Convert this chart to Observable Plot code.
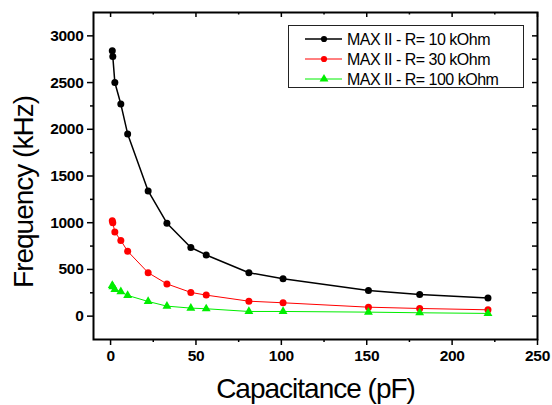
<!DOCTYPE html>
<html><head><meta charset="utf-8">
<script src="https://cdn.jsdelivr.net/npm/d3@7"></script>
<script src="https://cdn.jsdelivr.net/npm/@observablehq/plot@0.6"></script>
<style>
body{margin:0;background:#fff;}
#wrap{position:relative;width:552px;height:405px;font-family:"Liberation Sans",Arial,sans-serif;}
#legend{position:absolute;left:288px;top:25px;}
#wrap g[aria-label$="tick label"]{font-size:15.5px;font-weight:bold;letter-spacing:-0.3px;}
#wrap g[aria-label$="tick label"] text{font-size:15.5px;font-weight:bold;}
</style></head><body><div id="wrap"></div>
<script>
// Data
const capacitance = [1, 1.3, 2.5, 6, 10, 22, 33, 47, 56, 81, 101, 151, 181, 221];
const freq10k  = [2840, 2780, 2500, 2270, 1950, 1340, 995, 735, 655, 465, 400, 275, 232, 193];
const freq30k  = [1020, 1000, 900, 810, 695, 465, 345, 254, 225, 160, 143, 96, 82, 68];
const freq100k = [330, 315, 285, 262, 222, 157, 107, 86, 79, 50, 50, 43, 36, 29];
const seriesNames = ["MAX II - R= 10 kOhm", "MAX II - R= 30 kOhm", "MAX II - R= 100 kOhm"];
const seriesColors = ["#000000", "#ff0000", "#00ee00"];
const seriesSymbols = ["circle", "circle", "triangle"];
const xTicks = [0, 50, 100, 150, 200, 250];
const xMinor = [25, 75, 125, 175, 225];
const yTicks = [0, 500, 1000, 1500, 2000, 2500, 3000];
const yMinor = [250, 750, 1250, 1750, 2250, 2750];

const toRows = (vals) => vals.map((v, i) => ({c: capacitance[i], f: v}));
const d10 = toRows(freq10k), d30 = toRows(freq30k), d100 = toRows(freq100k);

const W = 552, Hsvg = 405, mL = 93, mR = 15, mT = 12, mB = 66;
const FW = W - mL - mR, FH = Hsvg - mT - mB;

const chart = Plot.plot({
  width: W, height: Hsvg,
  marginLeft: mL, marginRight: mR, marginTop: mT, marginBottom: mB,
  x: {domain: [-10, 250], label: null},
  y: {domain: [-250, 3250], label: null},
  style: {fontFamily: '"Liberation Sans", Arial, sans-serif', color: "black", background: "white"},
  marks: [
    // lines
    Plot.line(d10, {x: "c", y: "f", stroke: seriesColors[0], strokeWidth: 1.5}),
    Plot.line(d30, {x: "c", y: "f", stroke: seriesColors[1], strokeWidth: 1}),
    Plot.line(d100, {x: "c", y: "f", stroke: seriesColors[2], strokeWidth: 1}),
    // markers
    Plot.dot(d10, {x: "c", y: "f", fill: seriesColors[0], r: 3.5, symbol: "circle"}),
    Plot.dot(d30, {x: "c", y: "f", fill: seriesColors[1], r: 3.5, symbol: "circle"}),
    Plot.dot(d100, {x: "c", y: "f", fill: seriesColors[2], r: 3.3, symbol: "triangle"}),
    // ticks: bottom (outward), top (inward)
    Plot.ruleX(xTicks, {x: d => d, insetTop: FH - 6, dy: 6, stroke: "black", strokeWidth: 1.5}),
    Plot.ruleX(xMinor, {x: d => d, insetTop: FH - 3, dy: 3, stroke: "black", strokeWidth: 1.5}),
    Plot.ruleX(xTicks, {x: d => d, insetBottom: FH - 5, stroke: "black", strokeWidth: 1.5}),
    Plot.ruleX(xMinor, {x: d => d, insetBottom: FH - 2.5, stroke: "black", strokeWidth: 1.5}),
    // ticks: left (outward), right (inward)
    Plot.ruleY(yTicks, {y: d => d, insetRight: FW - 6, dx: -6, stroke: "black", strokeWidth: 1.5}),
    Plot.ruleY(yMinor, {y: d => d, insetRight: FW - 3, dx: -3, stroke: "black", strokeWidth: 1.5}),
    Plot.ruleY(yTicks.concat(yMinor), {y: d => d, insetLeft: FW - 5, stroke: "black", strokeWidth: 1.5}),
    // frame
    Plot.frame({stroke: "black", strokeWidth: 2}),
    // tick labels
    Plot.axisX(xTicks, {tickSize: 0, tickPadding: 10, fontSize: 15.5, fontWeight: "bold", tickFormat: d3.format("d"), label: null}),
    Plot.axisY(yTicks, {tickSize: 0, tickPadding: 10, fontSize: 15.5, fontWeight: "bold", tickFormat: d3.format("d"), label: null}),
    // axis titles
    Plot.text(["Capacitance (pF)"], {frameAnchor: "bottom", textAnchor: "middle", lineAnchor: "middle", dy: 50, fontSize: 28, fill: "black"}),
    Plot.text(["Frequency (kHz)"], {frameAnchor: "left", textAnchor: "middle", lineAnchor: "middle", dx: -69, dy: 16, rotate: -90, fontSize: 28, fill: "black"})
  ]
});
const wrap = document.getElementById("wrap");
wrap.appendChild(chart);
// tighten axis titles
d3.select(chart).selectAll("text").filter(function() {
  const t = this.textContent; return t === "Capacitance (pF)" || t === "Frequency (kHz)";
}).style("letter-spacing", "-1px");

// Legend (inside plot area, top right)
const lg = d3.select(wrap).append("svg").attr("id", "legend")
  .attr("width", 237).attr("height", 64);
lg.append("rect").attr("x", 0.5).attr("y", 0.5).attr("width", 235).attr("height", 62)
  .attr("fill", "white").attr("stroke", "#222").attr("stroke-width", 1);
seriesNames.forEach((name, i) => {
  const cy = 14 + i * 20;
  lg.append("line").attr("x1", 17).attr("x2", 54).attr("y1", cy).attr("y2", cy)
    .attr("stroke", seriesColors[i]).attr("stroke-width", i === 0 ? 1.5 : 1);
  const sym = seriesSymbols[i] === "triangle" ? d3.symbolTriangle : d3.symbolCircle;
  lg.append("path").attr("d", d3.symbol(sym, seriesSymbols[i] === "triangle" ? 34 : 30)())
    .attr("transform", `translate(36,${cy})`).attr("fill", seriesColors[i]);
  lg.append("text").attr("x", 59).attr("y", cy).attr("dy", "0.36em")
    .attr("font-size", 16).style("letter-spacing", "-0.5px").attr("fill", "black")
    .attr("font-family", '"Liberation Sans", Arial, sans-serif').text(name);
});
</script>
</body></html>
